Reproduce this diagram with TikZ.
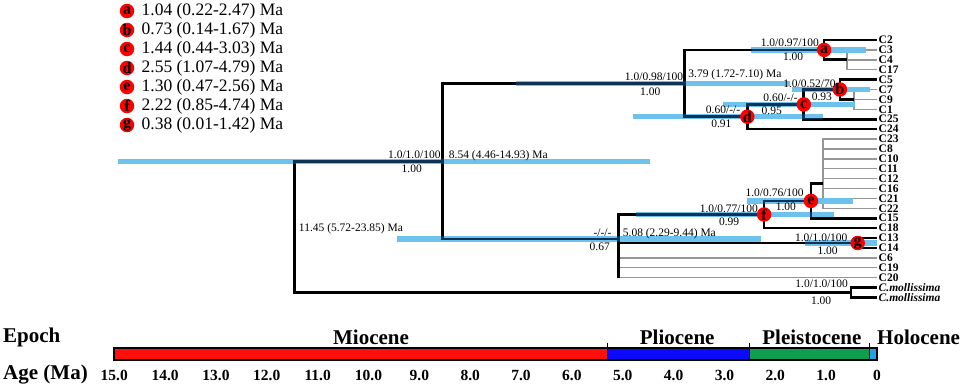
\documentclass[tikz,border=0pt]{standalone}
\usepackage{fontspec}
\setmainfont{Liberation Serif}
\usetikzlibrary{positioning}

\definecolor{hpdblue}{RGB}{108,194,236}
\definecolor{navybr}{RGB}{14,50,86}
\definecolor{twiggray}{RGB}{150,150,150}
\definecolor{miored}{RGB}{255,14,14}
\definecolor{plioblue}{RGB}{10,10,252}
\definecolor{pleistgreen}{RGB}{14,158,78}
\definecolor{holoblue}{RGB}{36,160,232}

% resolved branches, drawn twice (black, then navy where the HPD bars lie)
\newcommand{\treebranches}[1]{%
  \draw[#1]
    (R) |- (N854) (R) |- (Cm)
    (N854) |- (N379) (N854) |- (N508)
    (N379) |- (a) (N379) |- (d)
    (a) |- (C2.west) (a) |- (a2)
    (d) |- (c) (d) |- (C24.west)
    (c) |- (b) (c) |- (C25.west)
    (b) |- (C5.west) (b) |- (b2)
    (N508) |- (f) (N508) |- (g) (N508) -- (N508 |- C20.west)
    (f) |- (e) (f) |- (C18.west)
    (e) |- (e2) (e) |- (C15.west)
    (g) |- (C13.west) (g) |- (C14.west)
    (Cm) |- (Cm1.west) (Cm) |- (Cm2.west);}

\begin{document}
\begin{tikzpicture}[
    x=1pt, y=-1pt,
    branch/.style={line width=2.7pt},
    twig/.style={line width=1.4pt, twiggray},
    hpd/.style={line width=5.4pt, hpdblue},
    leaf/.style={anchor=west, inner sep=1.5pt, font=\fontsize{11.5}{11.5}\selectfont\bfseries},
    supp/.style={anchor=base east, inner sep=0pt, font=\fontsize{11.5}{12}\selectfont},
    postp/.style={anchor=base, inner sep=0pt, font=\fontsize{11.5}{12}\selectfont},
    datelab/.style={anchor=base west, inner sep=0pt, font=\fontsize{11.5}{12}\selectfont},
    reddot/.style={circle, fill=red, minimum size=14.5pt, inner sep=0pt, font=\fontsize{16}{16}\selectfont\bfseries},
    keytext/.style={anchor=west, inner sep=0pt, font=\fontsize{17.5}{17.5}\selectfont},
    epoch/.style={inner sep=0pt, font=\fontsize{21}{21}\selectfont\bfseries},
    agenum/.style={inner sep=0pt, font=\fontsize{15.5}{16}\selectfont\bfseries}
]
    \useasboundingbox (0,0) rectangle (964,389);

    % Key to the lettered nodes
    \foreach \k/\txt [count=\i from 0] in {a/{1.04 (0.22-2.47) Ma}, b/{0.73 (0.14-1.67) Ma},
        c/{1.44 (0.44-3.03) Ma}, d/{2.55 (1.07-4.79) Ma}, e/{1.30 (0.47-2.56) Ma},
        f/{2.22 (0.85-4.74) Ma}, g/{0.38 (0.01-1.42) Ma}} {
        \node[reddot] (key\k) at (127,{11+19*\i}) {\k};
        \node[keytext, right=7pt of key\k] (txt\k) {\txt};
    }

    % Tree and time scale share one axis: x is age in Ma, 0 at the tips
    \begin{scope}[x=-50.85pt, xshift=877pt]
    \def\hpdlist{4.46/14.93/161.2, 1.72/7.10/83.3, 0.22/2.47/49.9, 0.14/1.67/89.5,
        0.44/3.03/104.4, 1.07/4.79/116.7, 2.29/9.44/239, 0.85/4.74/214.5,
        0.47/2.56/200.9, 0.01/1.42/243}

    % Tips, spaced evenly from the top
    \foreach \lf [count=\i from 0] in {C2,C3,C4,C17,C5,C7,C9,C1,C25,C24,C23,C8,C10,
        C11,C12,C16,C21,C22,C15,C18,C13,C14,C6,C19,C20}
        \node[leaf] (\lf) at (0,{40+9.9*\i}) {\lf};
    \node[leaf] (Cm1) at (0,287.5) {\itshape C.mollissima};
    \node[leaf] (Cm2) at (0,297.4) {\itshape C.mollissima};

    % Internal nodes (age, height)
    \coordinate (R) at (11.45,226.8);
    \coordinate (N854) at (8.54,161.2);
    \coordinate (N379) at (3.79,83.3);
    \coordinate (a) at (1.04,49.9);
    \coordinate (a2) at (0.59,59.8);
    \coordinate (d) at (2.55,116.7);
    \coordinate (c) at (1.44,104.4);
    \coordinate (b) at (0.73,89.5);
    \coordinate (b2) at (0.45,99.4);
    \coordinate (N508) at (5.08,239);
    \coordinate (f) at (2.22,214.5);
    \coordinate (e) at (1.30,200.9);
    \coordinate (e2) at (1.06,183.5);
    \coordinate (g) at (0.38,243);
    \coordinate (Cm) at (0.51,292.4);

    % Unresolved tips
    \draw[twig]
        (a2) |- (C3.west) (a2) |- (C4.west) (a2) |- (C17.west)
        (b2) |- (C7.west) (b2) |- (C9.west) (b2) |- (C1.west)
        (N508) |- (C6.west) (N508) |- (C19.west) (N508) |- (C20.west);
    \foreach \lf in {C23,C8,C10,C11,C12,C16,C21,C22}
        \draw[twig] (e2) |- (\lf.west);

    % 95% HPD bars
    \foreach \lo/\hi/\yy in \hpdlist
        \draw[hpd] (\lo,\yy) -- (\hi,\yy);

    \treebranches{branch}
    \begin{scope}
        \clip \foreach \lo/\hi/\yy in \hpdlist {({\lo},{\yy-2.7}) rectangle ({\hi},{\yy+2.7})};
        \treebranches{branch, navybr}
    \end{scope}

    % Lettered nodes
    \foreach \k in {a,b,c,d,e,f,g}
        \node[reddot] (dot\k) at (\k) {\k};

    % Support values and posteriors
    \node[supp] (sN854) at ([xshift=-2pt,yshift=3pt]N854) {1.0/1.0/100};
    \node[postp] (pN854) at ([xshift=-31pt,yshift=-11pt]N854) {1.00};
    \node[supp] (sN379) at ([xshift=-1pt,yshift=2.5pt]N379) {1.0/0.98/100};
    \node[postp] (pN379) at ([xshift=-34pt,yshift=-12pt]N379) {1.00};
    \node[supp] (sa) at ([xshift=-5pt,yshift=3pt]a) {1.0/0.97/100};
    \node[postp] (pa) at ([xshift=-31pt,yshift=-11pt]a) {1.00};
    \node[supp] (sb) at ([xshift=-4pt,yshift=2.5pt]b) {1.0/0.52/70};
    \node[postp] (pb) at ([xshift=-18pt,yshift=-11pt]b) {0.93};
    \node[supp] (sc) at ([xshift=-6pt,yshift=3pt]c) {0.60/-/-};
    \node[postp] (pc) at ([xshift=-32pt,yshift=-10.5pt]c) {0.95};
    \node[supp] (sd) at ([xshift=-7pt,yshift=3pt]d) {0.60/-/-};
    \node[postp] (pd) at ([xshift=-26pt,yshift=-11pt]d) {0.91};
    \node[supp] (se) at ([xshift=-7pt,yshift=4pt]e) {1.0/0.76/100};
    \node[postp] (pe) at ([xshift=-25pt,yshift=-10pt]e) {1.00};
    \node[supp] (sf) at ([xshift=-6pt,yshift=2.5pt]f) {1.0/0.77/100};
    \node[postp] (pf) at ([xshift=-35pt,yshift=-10.5pt]f) {0.99};
    \node[supp] (sg) at ([xshift=-10pt,yshift=2pt]g) {1.0/1.0/100};
    \node[postp] (pg) at ([xshift=-30pt,yshift=-11pt]g) {1.00};
    \node[supp] (sN508) at ([xshift=-7pt,yshift=3pt]N508) {-/-/-};
    \node[postp] (pN508) at ([xshift=-19pt,yshift=-11pt]N508) {0.67};
    \node[supp] (sCm) at ([xshift=-3pt,yshift=5pt]Cm) {1.0/1.0/100};
    \node[postp] (pCm) at ([xshift=-30pt,yshift=-12pt]Cm) {1.00};

    % Node ages
    \node[datelab] (tN854) at ([xshift=6pt,yshift=3pt]N854) {8.54 (4.46-14.93) Ma};
    \node[datelab] (tN379) at ([xshift=4pt,yshift=6pt]N379) {3.79 (1.72-7.10) Ma};
    \node[datelab] (tN508) at ([xshift=4pt,yshift=3pt]N508) {5.08 (2.29-9.44) Ma};
    \node[datelab, anchor=west] (tR) at ([xshift=4pt,yshift=-2pt]R) {11.45 (5.72-23.85) Ma};

    % Geological time scale
    \fill[miored] (15,348) rectangle (5.3,360);
    \fill[plioblue] (5.3,348) rectangle (2.5,360);
    \fill[pleistgreen] (2.5,348) rectangle (0.15,360);
    \fill[holoblue] (0.15,348) rectangle (0,360);
    \foreach \bd in {5.3,2.5,0.15} {
        \draw[line width=.9pt] (\bd,348) -- (\bd,360);
        \draw[line width=.8pt] (\bd,343) -- (\bd,348);
    }
    \draw[line width=1.6pt] (15,348) rectangle (0,360);

    \node[epoch] (mio) at (9.95,337) {Miocene};
    \node[epoch] (plio) at (3.93,337) {Pliocene};
    \node[epoch] (pleist) at (1.28,337) {Pleistocene};
    \node[epoch, anchor=west] (holo) at (0,337) {Holocene};

    \foreach \t in {1,...,15}
        \node[agenum] (age\t) at (\t,375) {\t.0};
    \node[agenum] (age0) at (0,375) {0};
    \end{scope}

    \node[epoch, anchor=west] (epochlab) at (3,337) {Epoch};
    \node[epoch, anchor=west] (agelab) at (3,375) {Age (Ma)};
\end{tikzpicture}
\end{document}
